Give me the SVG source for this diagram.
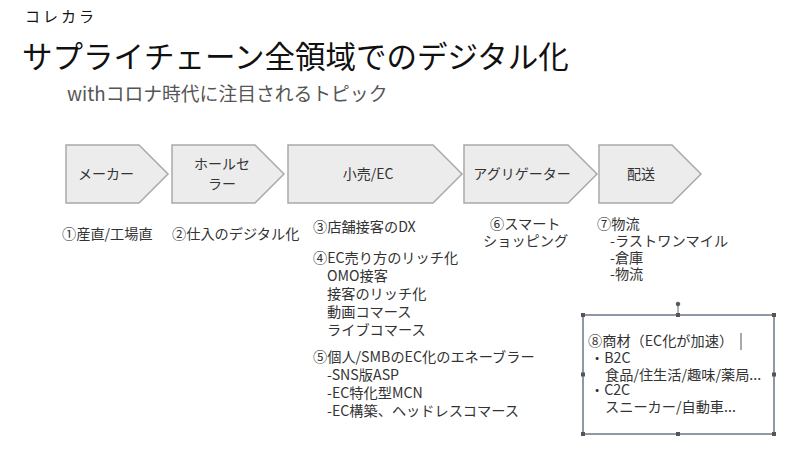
<svg xmlns="http://www.w3.org/2000/svg" width="800" height="457" viewBox="0 0 800 457">
<style>
text{font-family:"Noto Sans CJK JP","Noto Sans",sans-serif;fill:#333}
.chev{fill:#ececec;stroke:#a9a9a9;stroke-width:1.5}
.lbl{font-size:14px;text-anchor:middle}
.body{font-size:14.2px}
.h{fill:#555;stroke:#555}
</style>
<rect width="800" height="457" fill="#fff"/>
<g id="header">
<text x="25" y="22" style="font-size:15px;fill:#111;letter-spacing:3px">コレカラ</text>
<text x="22" y="68" style="font-size:30.5px;fill:#111">サプライチェーン全領域でのデジタル化</text>
<text x="67" y="101" style="font-size:18.8px;fill:#555">withコロナ時代に注目されるトピック</text>
</g>
<g id="connectors"></g>
<g id="n1"><polygon class="chev" points="66,145 139,145 168,174 139,203 66,203"/><text class="lbl" x="106" y="179">メーカー</text></g>
<g id="n2"><polygon class="chev" points="172,145 255,145 284,174 255,203 172,203"/><text class="lbl" x="222" y="169">ホールセ</text><text class="lbl" x="222" y="189">ラー</text></g>
<g id="n3"><polygon class="chev" points="288,145 433,145 462,174 433,203 288,203"/><text class="lbl" x="368" y="179">小売/EC</text></g>
<g id="n4"><polygon class="chev" points="464,145 568,145 597,174 568,203 464,203"/><text class="lbl" x="522" y="179">アグリゲーター</text></g>
<g id="n5"><polygon class="chev" points="599,145 672,145 701,174 672,203 599,203"/><text class="lbl" x="641" y="179">配送</text></g>
<g id="t1"><text class="body" x="62" y="239">①産直/工場直</text></g>
<g id="t2"><text class="body" x="172" y="239">②仕入のデジタル化</text></g>
<g id="t3"><text class="body" x="313" y="232">③店舗接客のDX</text></g>
<g id="t4">
<text class="body" x="313" y="263">④EC売り方のリッチ化</text>
<text class="body" x="327" y="281">OMO接客</text>
<text class="body" x="327" y="299">接客のリッチ化</text>
<text class="body" x="327" y="317">動画コマース</text>
<text class="body" x="327" y="335">ライブコマース</text>
</g>
<g id="t5">
<text class="body" x="313" y="362">⑤個人/SMBのEC化のエネーブラー</text>
<text class="body" x="327" y="380">-SNS版ASP</text>
<text class="body" x="327" y="398">-EC特化型MCN</text>
<text class="body" x="327" y="416">-EC構築、ヘッドレスコマース</text>
</g>
<g id="t6">
<text class="body" x="490" y="229">⑥スマート</text>
<text class="body" x="483" y="246">ショッピング</text>
</g>
<g id="t7">
<text class="body" x="597" y="229">⑦物流</text>
<text class="body" x="610" y="246">-ラストワンマイル</text>
<text class="body" x="610" y="263">-倉庫</text>
<text class="body" x="610" y="279">-物流</text>
</g>
<g id="t8">
<rect x="583" y="315" width="191" height="119" fill="#fff" stroke="#6b7889" stroke-width="1.5"/>
<line x1="678" y1="304" x2="678" y2="315" stroke="#666" stroke-width="1"/>
<circle cx="678" cy="304" r="1.8" class="h"/>
<g class="h">
<rect x="581.5" y="313.5" width="3" height="3"/><rect x="676.5" y="313.5" width="3" height="3"/><rect x="772.5" y="313.5" width="3" height="3"/>
<rect x="581.5" y="373" width="3" height="3"/><rect x="772.5" y="373" width="3" height="3"/>
<rect x="581.5" y="432.5" width="3" height="3"/><rect x="676.5" y="432.5" width="3" height="3"/><rect x="772.5" y="432.5" width="3" height="3"/>
</g>
<text class="body" x="588" y="346">⑧商材（EC化が加速）</text>
<line x1="741" y1="333" x2="741" y2="350" stroke="#555" stroke-width="1"/>
<text class="body" x="590" y="363">・B2C</text>
<text class="body" x="605" y="380">食品/住生活/趣味/薬局...</text>
<text class="body" x="590" y="395">・C2C</text>
<text class="body" x="605" y="412">スニーカー/自動車...</text>
</g>
</svg>
